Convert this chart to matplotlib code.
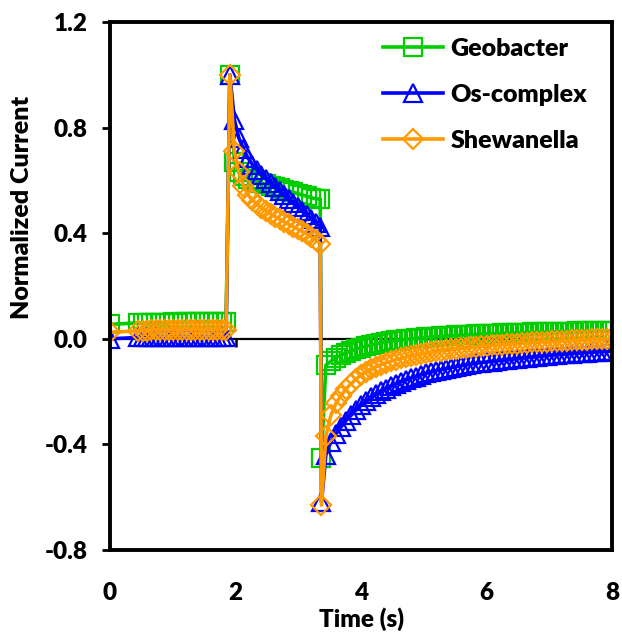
import matplotlib
matplotlib.use("Agg")
import matplotlib.pyplot as plt

plt.rcParams['font.family'] = ['Lato', 'DejaVu Sans']
plt.rcParams['font.weight'] = 'bold'
W = 'heavy'

# ---- time grid (s) ----
t_start = [0.0]
t_flat = [0.45, 0.52, 0.59, 0.66, 0.73, 0.80, 0.87, 0.94, 1.01, 1.08, 1.15,
          1.22, 1.29, 1.36, 1.43, 1.50, 1.57, 1.64, 1.71, 1.78, 1.85]
t_decay = [1.91, 1.982, 2.054, 2.126, 2.198, 2.27, 2.342, 2.414, 2.486, 2.558,
           2.63, 2.702, 2.774, 2.846, 2.918, 2.99, 3.062, 3.134, 3.206, 3.278, 3.35]
t_min = [3.37]
t_tail = [3.44, 3.52, 3.60, 3.68, 3.76, 3.84, 3.92, 4.00, 4.08, 4.16, 4.24, 4.32,
          4.40, 4.48, 4.56, 4.64, 4.72, 4.80, 4.88, 4.96, 5.04, 5.12, 5.20, 5.28,
          5.36, 5.44, 5.52, 5.60, 5.68, 5.76, 5.84, 5.92, 6.00, 6.08, 6.16, 6.24,
          6.32, 6.40, 6.48, 6.56, 6.64, 6.72, 6.80, 6.88, 6.96, 7.04, 7.12, 7.20,
          7.28, 7.36, 7.44, 7.52, 7.60, 7.68, 7.76, 7.84, 7.92, 8.00]
time = t_start + t_flat + t_decay + t_min + t_tail

# ---- Geobacter ----
geo_start = [0.055]
geo_flat = [0.06, 0.06, 0.06, 0.06, 0.06, 0.06, 0.06, 0.06, 0.065, 0.06, 0.065,
            0.065, 0.065, 0.065, 0.065, 0.065, 0.065, 0.065, 0.065, 0.065, 0.065]
geo_decay = [1.00, 0.67, 0.63, 0.615, 0.605, 0.60, 0.595, 0.59, 0.585, 0.58,
             0.575, 0.57, 0.565, 0.56, 0.555, 0.55, 0.545, 0.54, 0.535, 0.53, 0.53]
geo_min = [-0.45]
geo_tail = [-0.10, -0.085, -0.072, -0.062, -0.053, -0.046, -0.039, -0.033, -0.028,
            -0.023, -0.019, -0.015, -0.012, -0.009, -0.006, -0.004, -0.002, 0.0,
            0.002, 0.004, 0.005, 0.007, 0.008, 0.010, 0.011, 0.012, 0.013, 0.014,
            0.015, 0.016, 0.017, 0.018, 0.019, 0.020, 0.020, 0.021, 0.021, 0.022,
            0.022, 0.023, 0.023, 0.024, 0.024, 0.025, 0.025, 0.026, 0.026, 0.027,
            0.027, 0.027, 0.028, 0.028, 0.028, 0.029, 0.029, 0.029, 0.030, 0.030]
geobacter = geo_start + geo_flat + geo_decay + geo_min + geo_tail

# ---- Os-complex ----
os_start = [0.0]
os_flat = [0.005, 0.005, 0.005, 0.005, 0.005, 0.005, 0.005, 0.005, 0.005, 0.005,
           0.005, 0.005, 0.005, 0.005, 0.005, 0.005, 0.005, 0.005, 0.005, 0.005, 0.005]
os_decay = [1.00, 0.83, 0.76, 0.72, 0.685, 0.66, 0.64, 0.62, 0.605, 0.59, 0.575,
            0.56, 0.545, 0.53, 0.515, 0.50, 0.485, 0.47, 0.455, 0.44, 0.425]
os_min = [-0.62]
os_tail = [-0.44, -0.39, -0.36, -0.335, -0.31, -0.29, -0.27, -0.252, -0.236,
           -0.222, -0.210, -0.199, -0.189, -0.180, -0.171, -0.163, -0.156, -0.149,
           -0.143, -0.137, -0.131, -0.126, -0.121, -0.117, -0.113, -0.109, -0.105,
           -0.102, -0.099, -0.096, -0.093, -0.090, -0.088, -0.086, -0.084, -0.082,
           -0.080, -0.078, -0.076, -0.074, -0.072, -0.070, -0.068, -0.066, -0.064,
           -0.062, -0.061, -0.059, -0.058, -0.056, -0.055, -0.054, -0.052, -0.051,
           -0.050, -0.049, -0.048, -0.047]
os_complex = os_start + os_flat + os_decay + os_min + os_tail

# ---- Shewanella ----
she_start = [0.025]
she_flat = [0.03, 0.03, 0.03, 0.035, 0.035, 0.035, 0.035, 0.035, 0.035, 0.035,
            0.035, 0.035, 0.035, 0.035, 0.035, 0.035, 0.035, 0.035, 0.035, 0.035, 0.035]
she_decay = [1.00, 0.71, 0.63, 0.58, 0.545, 0.525, 0.51, 0.497, 0.485, 0.474,
             0.463, 0.453, 0.443, 0.434, 0.425, 0.416, 0.407, 0.397, 0.387, 0.376, 0.36]
she_min = [-0.63]
she_tail = [-0.37, -0.29, -0.245, -0.215, -0.19, -0.17, -0.153, -0.138, -0.126,
            -0.115, -0.106, -0.098, -0.091, -0.085, -0.079, -0.074, -0.069, -0.065,
            -0.061, -0.057, -0.054, -0.051, -0.048, -0.045, -0.042, -0.040, -0.038,
            -0.036, -0.034, -0.032, -0.030, -0.028, -0.026, -0.025, -0.023, -0.022,
            -0.020, -0.019, -0.018, -0.016, -0.015, -0.014, -0.013, -0.012, -0.011,
            -0.010, -0.009, -0.008, -0.007, -0.006, -0.005, -0.004, -0.003, -0.002,
            -0.001, 0.0, 0.0, 0.001]
shewanella = she_start + she_flat + she_decay + she_min + she_tail

labels = ["Geobacter", "Os-complex", "Shewanella"]
series = [geobacter, os_complex, shewanella]
colors = ["#00CC00", "#0000FF", "#FF9900"]
markers = ["s", "^", "D"]
msizes = [13, 13.5, 10]

xticks = [0, 2, 4, 6, 8]
yticks = [-0.8, -0.4, 0.0, 0.4, 0.8, 1.2]
yticklabels = ["-0.8", "-0.4", "0.0", "0.4", "0.8", "1.2"]

fig = plt.figure(figsize=(6.22, 6.32), dpi=100)
ax = fig.add_axes([110/622, 82/632, 502/622, 528/632])

for y, lab, c, m, ms in zip(series, labels, colors, markers, msizes):
    ax.plot(time, y, color=c, lw=2.6, marker=m, ms=ms, mfc='none',
            mec=c, mew=1.6, label=lab, zorder=2)

ax.set_xlim(0, 8)
ax.set_ylim(-0.8, 1.2)
ax.set_xticks(xticks)
ax.set_xticklabels([str(v) for v in xticks])
ax.set_yticks(yticks)
ax.set_yticklabels(yticklabels)
ax.tick_params(axis='x', length=0, pad=23, labelsize=17.5)
ax.tick_params(axis='y', length=6, width=2, direction='out', labelsize=17.5, pad=10)
for lab in ax.get_xticklabels() + ax.get_yticklabels():
    lab.set_fontweight(W)
for s in ax.spines.values():
    s.set_linewidth(2.8)
    s.set_color('black')

# zero axis line with downward ticks
sec = ax.secondary_xaxis(0.4)
sec.set_xticks([2, 4, 6, 8])
sec.tick_params(axis='x', length=6, width=1.8, direction='out', labelbottom=False)
sec.spines['bottom'].set_linewidth(1.6)

fig.text(362/622, 1 - 619/632, "Time (s)", ha='center', va='center',
         fontsize=17.5, fontweight=W)
fig.text(22/622, 1 - 207/632, "Normalized Current", ha='center', va='center',
         rotation=90, fontsize=18, fontweight=W)

leg = ax.legend(loc='upper left', bbox_to_anchor=(383/622, 1 - 38/632),
                bbox_transform=fig.transFigure, frameon=False, borderpad=0,
                borderaxespad=0, fontsize=18, handlelength=2.4,
                handletextpad=0.3, labelspacing=0.95)
for txt in leg.get_texts():
    txt.set_fontweight(W)

fig.savefig("out.png", dpi=100)
